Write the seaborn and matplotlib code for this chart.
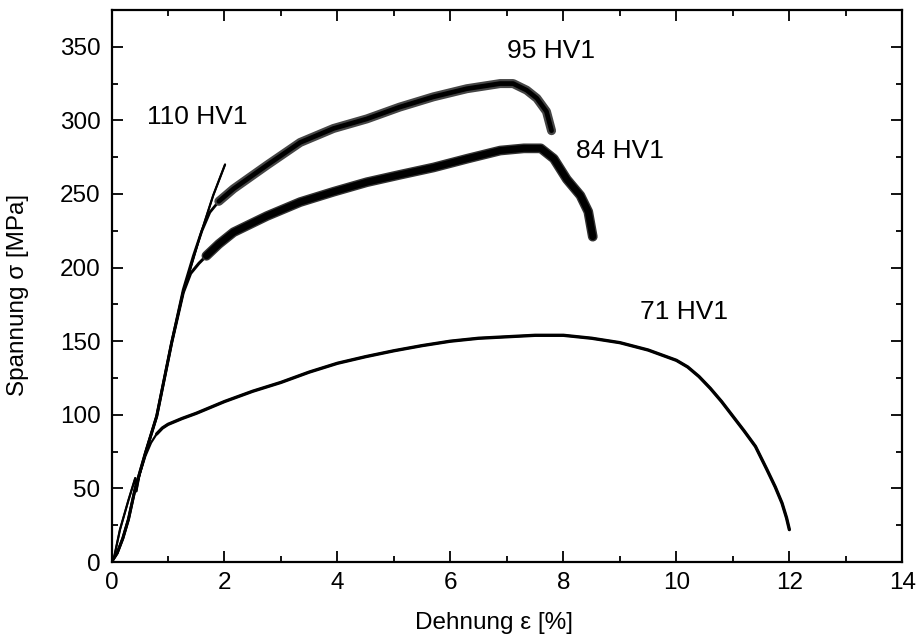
import numpy as np
import pandas as pd
import matplotlib
matplotlib.use("Agg")
import matplotlib.pyplot as plt
import seaborn as sns
from matplotlib.ticker import MultipleLocator

# Zugversuche: Spannung-Dehnung fuer vier Haertestufen
strain_71 = [0, 0.1, 0.2, 0.3, 0.42, 0.6, 0.7, 0.8, 0.9, 1.0, 1.25, 1.5, 2.0, 2.5,
             3.0, 3.5, 4.0, 4.5, 5.0, 5.5, 6.0, 6.5, 7.0, 7.5, 8.0, 8.5, 9.0, 9.5,
             10.0, 10.2, 10.4, 10.6, 10.8, 11.0, 11.2, 11.4, 11.6, 11.75, 11.87,
             11.95, 12.0]
stress_71 = [0, 6, 16, 29, 50, 72, 81, 87, 91, 93.5, 97.5, 101, 109, 116,
             122, 129, 135, 139.5, 143.5, 147, 150, 152, 153, 154, 154, 152, 149, 144,
             137, 132.5, 126, 118, 109, 99, 89, 78.5, 63, 51, 40, 30, 22]

strain_84 = [0, 0.1, 0.2, 0.3, 0.42, 0.6, 0.8, 1.065, 1.27, 1.4, 1.55, 1.68, 1.9,
             2.16, 2.75, 3.34, 3.93, 4.52, 5.1, 5.7, 6.3, 6.88, 7.3, 7.6, 7.83,
             8.06, 8.3, 8.44, 8.52]
stress_84 = [0, 6, 16, 29, 50, 74, 99, 149, 183, 196, 203, 208, 216,
             224, 235, 244.5, 251.5, 258, 263, 268, 274, 279.5, 281, 281, 274,
             260, 249, 238, 221]

strain_95 = [0, 0.1, 0.2, 0.3, 0.42, 0.6, 0.8, 1.065, 1.27, 1.45, 1.6, 1.74, 1.9,
             2.16, 2.75, 3.34, 3.93, 4.52, 5.1, 5.7, 6.29, 6.88, 7.11, 7.35, 7.53,
             7.70, 7.79]
stress_95 = [0, 6, 16, 29, 50, 74, 99, 149, 185, 208, 225, 237.5, 245,
             253.5, 269.5, 285, 294.5, 301, 309, 316, 321.5, 325, 325, 320.5, 315,
             306, 293]

strain_110 = [0, 0.05, 0.15, 0.3, 0.42, 0.44, 0.5, 0.6, 0.8, 1.065, 1.27, 1.57, 1.8, 2.01]
stress_110 = [0, 4, 22, 42, 57, 48, 60, 74, 99, 149, 183, 221.7, 249, 270]

labels = ["71 HV1", "84 HV1", "95 HV1", "110 HV1"]
label_pos = [(9.36, 170), (8.23, 279), (7.0, 347), (0.62, 302)]

sns.set_theme(style="ticks")
plt.rcParams["font.family"] = ["Liberation Sans", "DejaVu Sans"]

fig = plt.figure(figsize=(9.2, 6.39), dpi=100)
ax = fig.add_axes([0.1212, 0.1205, 0.8596, 0.8639])

line_kw = dict(sort=False, estimator=None, ax=ax,
               solid_capstyle="round", solid_joinstyle="round")


def draw(x, y, lw, base=1.6, start=0, halo=None):
    df = pd.DataFrame({"strain": x, "stress": y})
    # elastic part thin, serrated plastic part drawn as a broad band
    sns.lineplot(data=df, x="strain", y="stress", color="black", lw=base, **line_kw)
    part = df.iloc[start:]
    if halo is not None:
        sns.lineplot(data=part, x="strain", y="stress", color=halo[1],
                     lw=halo[0], **line_kw)
    sns.lineplot(data=part, x="strain", y="stress", color="black", lw=lw, **line_kw)


draw(strain_71, stress_71, 2.4, start=7)
draw(strain_84, stress_84, 5.0, base=2.2, start=11, halo=(7.0, "#333333"))
draw(strain_95, stress_95, 3.4, base=2.0, start=12, halo=(6.5, "#454545"))
draw(strain_110, stress_110, 1.3, start=0)

for text, (px, py) in zip(labels, label_pos):
    ax.text(px, py, text, fontsize=19, ha="left", va="center", color="black")

ax.set_xlim(0, 14)
ax.set_ylim(0, 375)
ax.xaxis.set_major_locator(MultipleLocator(2))
ax.xaxis.set_minor_locator(MultipleLocator(1))
ax.yaxis.set_major_locator(MultipleLocator(50))
ax.yaxis.set_minor_locator(MultipleLocator(25))

ax.tick_params(which="both", direction="in", top=True, right=True,
               width=1.3, color="black", labelcolor="black")
ax.tick_params(which="major", length=8, labelsize=17.5)
ax.tick_params(which="minor", length=4.5)
ax.tick_params(axis="x", which="major", pad=7)
ax.tick_params(axis="y", which="major", pad=8)

for s in ax.spines.values():
    s.set_linewidth(1.6)
    s.set_color("black")
    s.set_visible(True)

ax.set_xlabel("Dehnung ε [%]", fontsize=17.5, color="black")
ax.set_ylabel("Spannung σ [MPa]", fontsize=17.5, color="black")
ax.xaxis.set_label_coords(0.484, -0.09)
ax.yaxis.set_label_coords(-0.104, 0.484)
ax.grid(False)

fig.savefig("out.png", dpi=100, facecolor="white")
